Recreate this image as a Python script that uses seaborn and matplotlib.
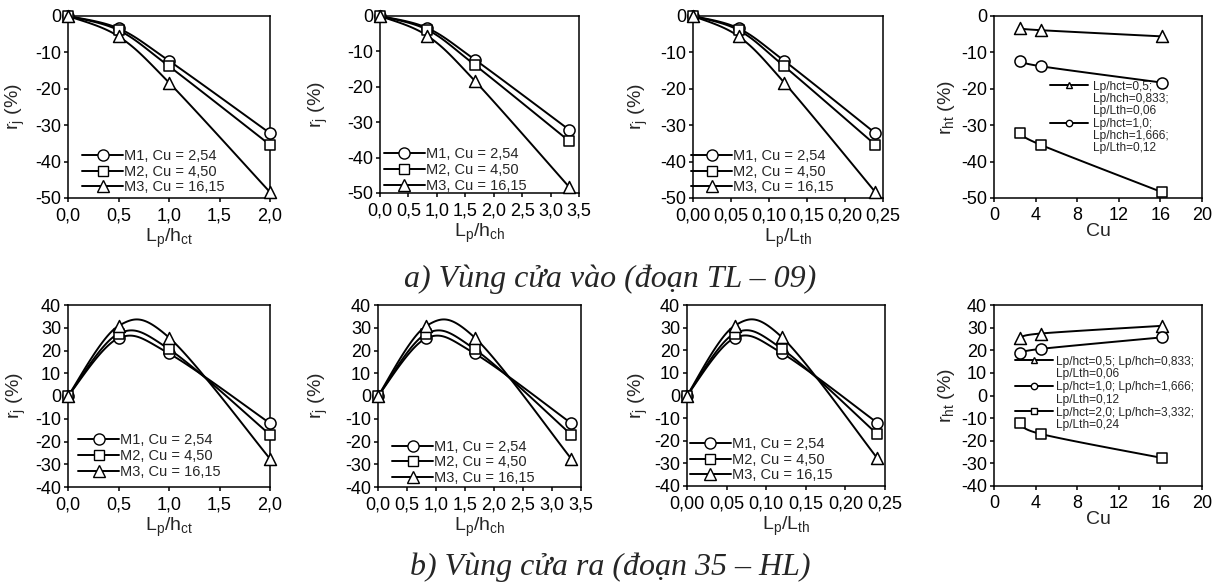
import numpy as np
import seaborn as sns
import matplotlib
matplotlib.use("Agg")
import matplotlib.pyplot as plt
from matplotlib.lines import Line2D
from matplotlib.ticker import FuncFormatter, MultipleLocator

# ---------------------------------------------------------------- data
ratio_ct = [0.0, 0.5, 1.0, 2.0]          # Lp/hct
ratio_ch = [0.0, 0.833, 1.666, 3.332]    # Lp/hch
ratio_th = [0.0, 0.06, 0.12, 0.24]       # Lp/Lth
cu_values = [2.54, 4.50, 16.15]

sample_labels = ["M1, Cu = 2,54", "M2, Cu = 4,50", "M3, Cu = 16,15"]

# inlet zone (segment TL - 09), r_j (%)
inlet_m1 = [0.0, -3.4, -12.3, -32.2]
inlet_m2 = [0.0, -3.9, -13.8, -35.4]
inlet_m3 = [0.0, -5.6, -18.3, -48.4]

# outlet zone (segment 35 - HL), r_j (%)
outlet_m1 = [0.0, 25.4, 18.7, -12.0]
outlet_m2 = [0.0, 27.4, 20.6, -17.0]
outlet_m3 = [0.0, 30.8, 25.7, -27.6]

inlet_ratio_labels = [["Lp/hct=0,5;", "Lp/hch=0,833;", "Lp/Lth=0,06"],
                      ["Lp/hct=1,0;", "Lp/hch=1,666;", "Lp/Lth=0,12"]]
outlet_ratio_labels = [["Lp/hct=0,5; Lp/hch=0,833;", "Lp/Lth=0,06"],
                       ["Lp/hct=1,0; Lp/hch=1,666;", "Lp/Lth=0,12"],
                       ["Lp/hct=2,0; Lp/hch=3,332;", "Lp/Lth=0,24"]]

caption_a = "a) Vùng cửa vào (đoạn TL – 09)"
caption_b = "b) Vùng cửa ra (đoạn 35 – HL)"

# ---------------------------------------------------------------- style
sns.set_theme(style="ticks")
plt.rcParams.update({
    "font.family": ["Liberation Sans", "DejaVu Sans"],
    "mathtext.fontset": "custom",
    "mathtext.rm": "Liberation Sans",
    "mathtext.it": "Liberation Sans:italic",
    "mathtext.bf": "Liberation Sans:bold",
    "axes.edgecolor": "black",
    "axes.linewidth": 1.1,
    "axes.facecolor": "white",
    "figure.facecolor": "white",
    "xtick.color": "black",
    "ytick.color": "black",
    "xtick.direction": "out",
    "ytick.direction": "out",
    "xtick.major.size": 3.0,
    "ytick.major.size": 3.0,
    "xtick.major.width": 1.1,
    "ytick.major.width": 1.1,
    "xtick.major.pad": 3.5,
    "ytick.major.pad": 2.0,
    "xtick.labelsize": 13,
    "ytick.labelsize": 13,
    "axes.labelsize": 14,
})

W, H = 1220, 582
fig = plt.figure(figsize=(W / 100, H / 100), dpi=100)

LINE_W = 1.4
MARKERS = ["o", "s", "^"]
MSIZE = {"o": 8.0, "s": 7.6, "^": 8.6}


def add_axes_px(x0, x1, y0, y1):
    return fig.add_axes([x0 / W, 1 - y1 / H, (x1 - x0) / W, (y1 - y0) / H])


def smooth_curve(x, y, n=40):
    """Piecewise cubic Bezier through the points (Catmull-Rom tangents)."""
    p = np.column_stack([x, y]).astype(float)
    ext = np.vstack([p[0], p, p[-1]])
    t = np.linspace(0, 1, n)[:, None]
    out = []
    for i in range(len(p) - 1):
        p0, p3 = ext[i + 1], ext[i + 2]
        c1 = p0 + (ext[i + 2] - ext[i]) / 6.0
        c2 = p3 - (ext[i + 3] - ext[i + 1]) / 6.0
        seg = ((1 - t) ** 3) * p0 + 3 * ((1 - t) ** 2) * t * c1 \
            + 3 * (1 - t) * t ** 2 * c2 + t ** 3 * p3
        out.append(seg if i == 0 else seg[1:])
    out = np.vstack(out)
    return out[:, 0], out[:, 1]


def draw_series(ax, x, ys, markers):
    for y in ys:
        sx, sy = smooth_curve(x, y)
        sns.lineplot(x=sx, y=sy, sort=False, estimator=None, color="black",
                     linewidth=LINE_W, ax=ax, legend=False, zorder=2)
    for y, m in zip(ys, markers):
        sns.scatterplot(x=x, y=y, marker=m, s=MSIZE[m] ** 2, color="white",
                        edgecolor="black", linewidth=1.1, ax=ax, legend=False,
                        zorder=3, clip_on=False)


def handle(m, ms):
    return Line2D([0], [0], color="black", linewidth=LINE_W, marker=m,
                  markersize=ms, markerfacecolor="white",
                  markeredgecolor="black", markeredgewidth=1.0)


def fmt(decimals):
    return FuncFormatter(lambda v, pos: f"{v:.{decimals}f}".replace(".", ","))


def style_axes(ax, xlim, xstep, xdec, ylim, ystep, xlabel, ylabel,
               ylab_x, xlab_y):
    ax.set_xlim(*xlim)
    ax.set_ylim(*ylim)
    ax.xaxis.set_major_locator(MultipleLocator(xstep))
    ax.yaxis.set_major_locator(MultipleLocator(ystep))
    ax.xaxis.set_major_formatter(fmt(xdec))
    ax.yaxis.set_major_formatter(fmt(0))
    for s in ax.spines.values():
        s.set_visible(True)
        s.set_color("black")
    ax.grid(False)
    ax.set_xlabel(xlabel, va="center")
    ax.set_ylabel(ylabel, va="center")
    ax.yaxis.set_label_coords(ylab_x, 0.5)
    ax.xaxis.set_label_coords(0.5, xlab_y)


xlabels = [r"$\mathregular{L_p/h_{ct}}$", r"$\mathregular{L_p/h_{ch}}$",
           r"$\mathregular{L_p/L_{th}}$"]
ratio_sets = [ratio_ct, ratio_ch, ratio_th]
x_setup = [((0, 2.0), 0.5, 1), ((0, 3.5), 0.5, 1), ((0, 0.25), 0.05, 2)]

rows = [
    dict(data=[inlet_m1, inlet_m2, inlet_m3], ylim=(-50, 0),
         boxes=[(68, 270, 16, 198), (380, 579, 16, 193), (693, 883, 16, 198)],
         cu_box=(994, 1202, 16, 198),
         leg_anchor=[(0.07, 0.02), (0.02, 0.0), (-0.01, 0.02)],
         ylab=[-0.26, -0.31, -0.285], cu_ylab=-0.226),
    dict(data=[outlet_m1, outlet_m2, outlet_m3], ylim=(-40, 40),
         boxes=[(68, 270, 305, 487), (378, 581, 305, 487), (687, 885, 305, 486)],
         cu_box=(994, 1202, 305, 486),
         leg_anchor=[(0.05, 0.045), (0.07, 0.01), (0.015, 0.02)],
         ylab=[-0.255, -0.296, -0.247], cu_ylab=-0.226),
]

for r, row in enumerate(rows):
    ys = row["data"]
    for k in range(3):
        ax = add_axes_px(*row["boxes"][k])
        draw_series(ax, ratio_sets[k], ys, MARKERS)
        (xl, xs, xd) = x_setup[k]
        box_h = row["boxes"][k][3] - row["boxes"][k][2]
        style_axes(ax, xl, xs, xd, row["ylim"], 10, xlabels[k],
                   r"$\mathregular{r_j}$ (%)", row["ylab"][k], -40 / box_h)
        ax.legend([handle(m, MSIZE[m]) for m in MARKERS], sample_labels,
                  loc="lower left", bbox_to_anchor=row["leg_anchor"][k],
                  frameon=False, fontsize=10.5, handlelength=2.8,
                  handletextpad=0.05, labelspacing=0.12, borderpad=0,
                  borderaxespad=0)

    # r_ht against Cu, one line per Lp ratio
    ax = add_axes_px(*row["cu_box"])
    by_ratio = [[ys[m][j] for m in range(3)] for j in (1, 2, 3)]
    ratio_markers = ["^", "o", "s"]
    draw_series(ax, cu_values, by_ratio, ratio_markers)
    box_h = row["cu_box"][3] - row["cu_box"][2]
    style_axes(ax, (0, 20), 4, 0, row["ylim"], 10, "Cu",
               r"$\mathregular{r_{ht}}$ (%)", row["cu_ylab"], -34 / box_h)

    labels_src = inlet_ratio_labels if r == 0 else outlet_ratio_labels
    hs, ls = [], []
    for m, lines in zip(ratio_markers, labels_src):
        for i, txt in enumerate(lines):
            hs.append(handle(m, 4.6) if i == 0 else Line2D([], [], linestyle="none"))
            ls.append(txt)
    if r == 0:
        ax.legend(hs, ls, loc="upper left", bbox_to_anchor=(0.27, 0.645),
                  frameon=False, fontsize=8.6, handlelength=3.2,
                  handletextpad=0.35, labelspacing=0.03, borderpad=0,
                  borderaxespad=0)
    else:
        ax.legend(hs, ls, loc="upper left", bbox_to_anchor=(0.10, 0.72),
                  frameon=False, fontsize=8.6, handlelength=3.2,
                  handletextpad=0.25, labelspacing=0.06, borderpad=0,
                  borderaxespad=0)

cap_kw = dict(ha="center", va="baseline", fontsize=23, style="italic",
              family=["Liberation Serif", "DejaVu Serif"])
fig.text(0.5, 1 - 287 / H, caption_a, **cap_kw)
fig.text(0.5, 1 - 575 / H, caption_b, **cap_kw)

fig.savefig("out.png", dpi=100, facecolor="white")
